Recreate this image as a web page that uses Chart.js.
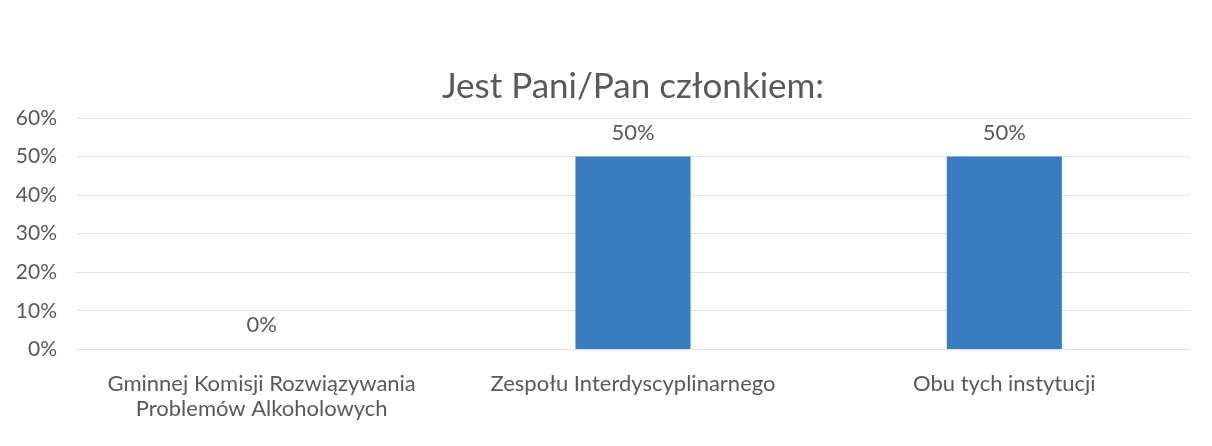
<!DOCTYPE html>
<html>
<head>
<meta charset="utf-8">
<script src="https://cdn.jsdelivr.net/npm/chart.js@4/dist/chart.umd.min.js"></script>
<style>
  html, body { margin: 0; padding: 0; background: #fff; }
  #wrap { width: 1212px; height: 446px; position: relative; }
</style>
</head>
<body>
<div id="wrap"><canvas id="c" width="1212" height="446"></canvas></div>
<script>
const chartTitle = 'Jest Pani/Pan członkiem:';
const categories = [
  ['Gminnej Komisji Rozwiązywania', 'Problemów Alkoholowych'],
  'Zespołu Interdyscyplinarnego',
  'Obu tych instytucji'
];
const shares = [0, 0.5, 0.5];
const tickMax = 0.6;
const tickStep = 0.1;

const FONT = 'Lato, "Open Sans", sans-serif';
const TEXT = '#595959';

const pct = v => Math.round(v * 100) + '%';

// Title centred over the plot area rather than the whole canvas
const plotTitle = {
  id: 'plotTitle',
  afterDraw(chart) {
    const { ctx, chartArea } = chart;
    ctx.save();
    ctx.font = '35px ' + FONT;
    ctx.fillStyle = TEXT;
    ctx.textAlign = 'center';
    ctx.textBaseline = 'middle';
    ctx.fillText(chartTitle, (chartArea.left + chartArea.right) / 2, chartArea.top - 31);
    ctx.restore();
  }
};

// Writes each bar's value above it
const valueLabels = {
  id: 'valueLabels',
  afterDatasetsDraw(chart) {
    const ctx = chart.ctx;
    const meta = chart.getDatasetMeta(0);
    ctx.save();
    ctx.font = '22px ' + FONT;
    ctx.fillStyle = TEXT;
    ctx.textAlign = 'center';
    ctx.textBaseline = 'bottom';
    meta.data.forEach((bar, i) => {
      ctx.fillText(pct(shares[i]), bar.x, bar.y - 13);
    });
    ctx.restore();
  }
};

new Chart(document.getElementById('c'), {
  type: 'bar',
  data: {
    labels: categories,
    datasets: [{
      data: shares,
      backgroundColor: '#3a7cc0',
      borderWidth: 0,
      categoryPercentage: 1,
      barPercentage: 0.31
    }]
  },
  options: {
    responsive: false,
    animation: false,
    layout: { padding: { left: 6, right: 22, top: 118, bottom: 10 } },
    plugins: {
      legend: { display: false },
      tooltip: { enabled: false },
      title: { display: false }
    },
    scales: {
      x: {
        grid: { display: false },
        border: { display: false },
        ticks: {
          color: TEXT,
          font: { family: FONT, size: 22, lineHeight: 1.15 },
          padding: 14,
          maxRotation: 0,
          autoSkip: false
        }
      },
      y: {
        min: 0,
        max: tickMax,
        border: { display: false },
        grid: { color: '#e2e2e2', drawTicks: false, lineWidth: 1 },
        afterFit(scale) { scale.width = 70; },
        ticks: {
          stepSize: tickStep,
          color: TEXT,
          font: { family: FONT, size: 21 },
          padding: 19,
          callback: v => pct(v)
        }
      }
    }
  },
  plugins: [valueLabels, plotTitle]
});
</script>
</body>
</html>
